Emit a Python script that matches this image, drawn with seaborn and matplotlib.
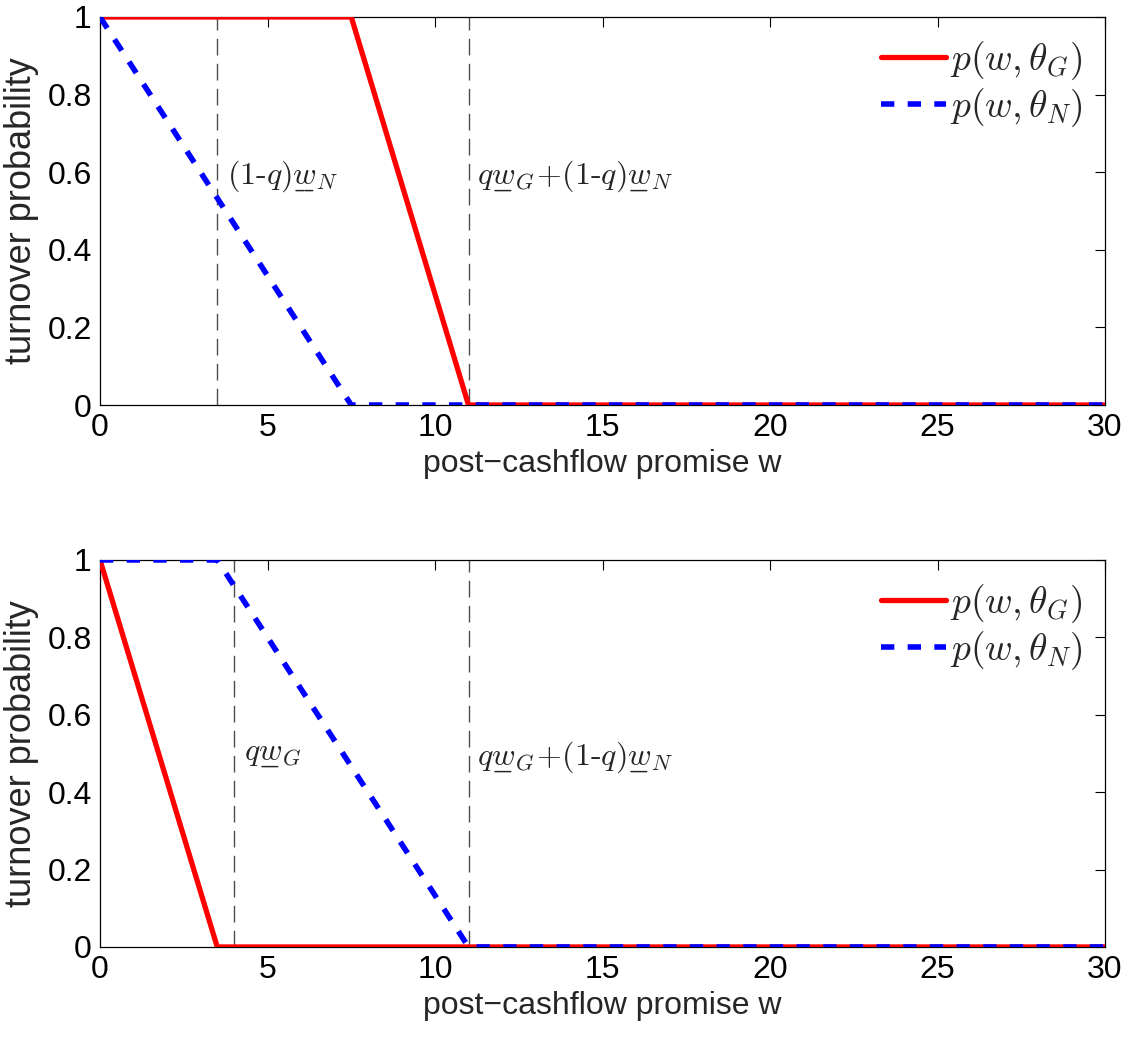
import numpy as np
import pandas as pd
import matplotlib
matplotlib.use("Agg")
import matplotlib.pyplot as plt
import seaborn as sns

# ---- data ----
top_wG = [0, 7.5, 11, 30]
top_pG = [1, 1, 0, 0]
top_wN = [0, 7.5, 30]
top_pN = [1, 0, 0]
top_vlines = [3.5, 11]
UW = r"\underset{\_\!\_}{w}"
top_labels = [r"$(1$-$q)" + UW + r"_N$", r"$q" + UW + r"_G\!+\!(1$-$q)" + UW + r"_N$"]
top_label_pos = [(3.8, 0.59), (11.25, 0.59)]

bot_wG = [0, 3.5, 30]
bot_pG = [1, 0, 0]
bot_wN = [0, 3.5, 11, 30]
bot_pN = [1, 1, 0, 0]
bot_vlines = [4, 11]
bot_labels = [r"$q" + UW + r"_G$", r"$q" + UW + r"_G\!+\!(1$-$q)" + UW + r"_N$"]
bot_label_pos = [(4.3, 0.49), (11.25, 0.49)]

xticks = [0, 5, 10, 15, 20, 25, 30]
yticks = [0, 0.2, 0.4, 0.6, 0.8, 1]
ytick_labels = ["0", "0.2", "0.4", "0.6", "0.8", "1"]
legend_labels = [r"$p(w,\theta_G)$", r"$p(w,\theta_N)$"]

sns.set_theme(style="white")
plt.rcParams["font.family"] = ["Liberation Sans", "DejaVu Sans"]
plt.rcParams["mathtext.fontset"] = "cm"

fig = plt.figure(figsize=(11.3, 10.42), dpi=100)
ax1 = fig.add_axes([0.0885, 0.6113, 0.8894, 0.3724])
ax2 = fig.add_axes([0.0885, 0.0912, 0.8894, 0.3714])

FS = 23

def draw(ax, wG, pG, wN, pN, vl, labels, lpos):
    for v in vl:
        ax.axvline(v, color="0.3", lw=1.0, linestyle=(0, (12, 6)), zorder=1)
    sns.lineplot(x=wG, y=pG, ax=ax, color="#ff0000", lw=3.8, estimator=None,
                 sort=False, label=legend_labels[0], zorder=3)
    sns.lineplot(x=wN, y=pN, ax=ax, color="#0000ff", lw=4.0, estimator=None,
                 sort=False, label=legend_labels[1], linestyle=(0, (2.4, 2.4)), zorder=4)
    for t, (x, y) in zip(labels, lpos):
        ax.text(x, y, t, fontsize=FS, family="cmr10", va="center", ha="left")
    ax.set_xlim(0, 30)
    ax.set_ylim(0, 1)
    ax.set_xticks(xticks)
    ax.set_xticklabels([str(x) for x in xticks])
    ax.set_yticks(yticks)
    ax.set_yticklabels(ytick_labels)
    ax.tick_params(direction="in", top=True, right=True, length=7, width=0.8,
                   labelsize=FS, pad=6, colors="black")
    for s in ax.spines.values():
        s.set_visible(True)
        s.set_color("black")
        s.set_linewidth(0.9)
    ax.set_xlabel("post\u2212cashflow promise w", fontsize=FS, labelpad=4)
    ax.set_ylabel("turnover probability", fontsize=26, labelpad=6)
    ax.legend(loc="upper right", frameon=False, fontsize=27,
              handlelength=1.75, handletextpad=0.1, borderaxespad=0.2,
              labelspacing=0.1)

draw(ax1, top_wG, top_pG, top_wN, top_pN, top_vlines, top_labels, top_label_pos)
draw(ax2, bot_wG, bot_pG, bot_wN, bot_pN, bot_vlines, bot_labels, bot_label_pos)

fig.savefig("out.png", dpi=100)
